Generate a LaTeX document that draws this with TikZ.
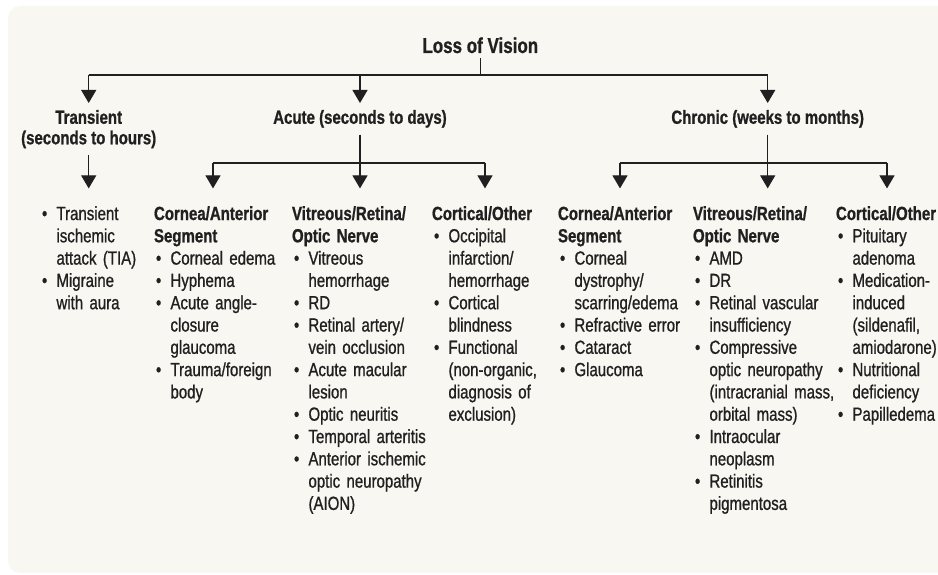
\documentclass[tikz,border=0pt]{standalone}
\usepackage{fontspec}
\setmainfont{Liberation Sans}[FakeStretch=0.79, UprightFeatures={FakeBold=0.9}, BoldFeatures={FakeBold=0.9}]
\usepackage{tikz}
\usetikzlibrary{arrows.meta}
\setlength{\parindent}{0pt}
\definecolor{ink}{RGB}{35,31,32}
\definecolor{paper}{RGB}{248,247,241}
% one bulleted entry, hanging indent for the wrapped lines
\newcommand{\itm}[1]{\hangindent=16.5pt\hangafter=1\noindent\strut\makebox[16.5pt][l]{\hspace{2pt}\textbullet}{\let\\\newline#1}\par}
\newcommand{\hd}[1]{\noindent{\bfseries\strut\let\\\newline#1}\par}

\begin{document}
\begin{tikzpicture}[x=1pt, y=1pt, every node/.style={text=ink},
	title/.style={font=\bfseries\fontsize{21.5}{24}\selectfont, anchor=base, inner sep=0pt, outer ysep=5pt},
	cat/.style={font=\bfseries\fontsize{19}{20.5}\selectfont, align=center, anchor=north, inner sep=0pt, outer ysep=7pt},
	col/.style={font=\fontsize{19}{22.3}\selectfont, anchor=north west, text width=165pt, align=left, inner sep=0pt, outer xsep=0pt, outer ysep=16pt},
	arr/.style={-{Triangle[width=15pt,length=13pt]}}]
	\useasboundingbox (0,0) rectangle (938,-575);
	\fill[paper, rounded corners=12pt] (8,-6) rectangle (950,-573);

	\node[title] (loss) at (480.3,-53) {Loss of Vision};
	\node[cat] (trans) at (88.7,-103) {Transient\\(seconds to hours)};
	\node[cat] (acute) at (360,-103) {Acute (seconds to days)};
	\node[cat] (chron) at (767.7,-103) {Chronic (weeks to months)};

	\node[col] (tlist) at (40,-188.4) {\itm{Transient\\ischemic\\attack (TIA)}\itm{Migraine\\with aura}};
	\node[col] (acorn) at (154,-188.4) {\hd{Cornea/Anterior\\Segment}\itm{Corneal edema}\itm{Hyphema}\itm{Acute angle-\\closure\\glaucoma}\itm{Trauma/foreign\\body}};
	\node[col] (avit) at (292,-188.4) {\hd{Vitreous/Retina/\\Optic Nerve}\itm{Vitreous\\hemorrhage}\itm{RD}\itm{Retinal artery/\\vein occlusion}\itm{Acute macular\\lesion}\itm{Optic neuritis}\itm{Temporal arteritis}\itm{Anterior ischemic\\optic neuropathy\\(AION)}};
	\node[col] (acort) at (432,-188.4) {\hd{Cortical/Other}\itm{Occipital\\infarction/\\hemorrhage}\itm{Cortical\\blindness}\itm{Functional\\(non-organic,\\diagnosis of\\exclusion)}};
	\node[col] (ccorn) at (558,-188.4) {\hd{Cornea/Anterior\\Segment}\itm{Corneal\\dystrophy/\\scarring/edema}\itm{Refractive error}\itm{Cataract}\itm{Glaucoma}};
	\node[col] (cvit) at (693,-188.4) {\hd{Vitreous/Retina/\\Optic Nerve}\itm{AMD}\itm{DR}\itm{Retinal vascular\\insufficiency}\itm{Compressive\\optic neuropathy\\(intracranial mass,\\orbital mass)}\itm{Intraocular\\neoplasm}\itm{Retinitis\\pigmentosa}};
	\node[col] (ccort) at (836,-188.4) {\hd{Cortical/Other}\itm{Pituitary\\adenoma}\itm{Medication-\\induced\\(sildenafil,\\amiodarone)}\itm{Nutritional\\deficiency}\itm{Papilledema}};

	\coordinate (tb) at (0,-75);
	\coordinate (a1) at (213,-163);
	\coordinate (a3) at (485,-163);
	\coordinate (c1) at (620,-163);
	\coordinate (c3) at (887,-163);

	\begin{scope}[draw=ink, line width=1.2pt]
		% top level
		\draw (loss) -- (loss |- tb);
		\draw (tb -| trans) -- (tb -| chron);
		\foreach \n in {trans, acute, chron}
			\draw[arr] (tb -| \n) -- (\n);
		% second level
		\draw[arr] (trans) -- (trans |- tlist.north);
		\draw (acute) -- (acute |- a1);
		\draw (chron) -- (chron |- c1);
		\draw (a1) -- (a3);
		\draw (c1) -- (c3);
		\foreach \p/\n in {a1/acorn, acute/avit, a3/acort, c1/ccorn, chron/cvit, c3/ccort}
			\draw[arr] (\p |- a1) -- (\p |- \n.north);
	\end{scope}
\end{tikzpicture}
\end{document}
